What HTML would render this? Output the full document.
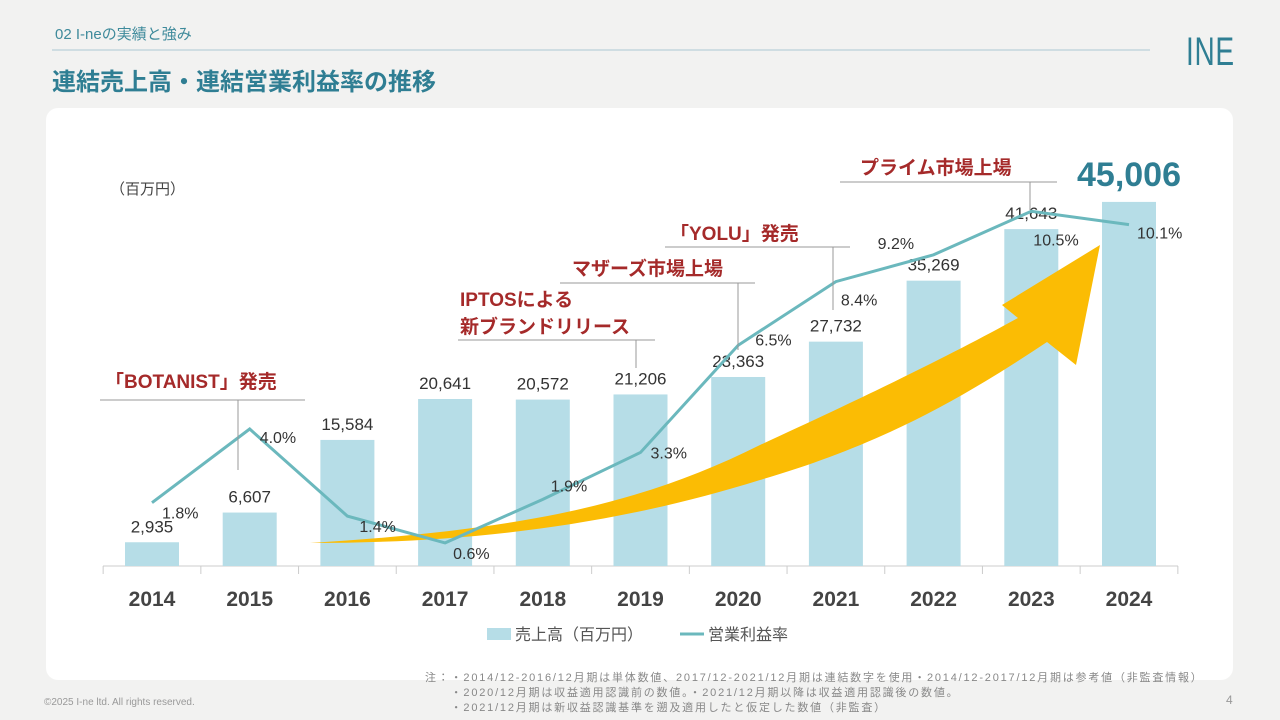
<!DOCTYPE html>
<html><head><meta charset="utf-8"><style>
body{margin:0;width:1280px;height:720px;background:#f2f2f1;font-family:"Liberation Sans","Noto Sans CJK JP",sans-serif;position:relative;overflow:hidden}
.abs{position:absolute}
</style></head><body>
<div class="abs" style="left:55px;top:23px;font-size:15px;color:#3e8a9b">02 I-neの実績と強み</div>
<div class="abs" style="left:52px;top:49px;width:1098px;height:2px;background:#cfdde2"></div>
<div class="abs" style="left:52px;top:62px;font-size:24px;font-weight:bold;color:#2f7e93">連結売上高・連結営業利益率の推移</div>
<div class="abs" style="left:1186px;top:30px;font-size:40px;color:#2f7e93;letter-spacing:1px;transform:scaleX(0.7);transform-origin:left;font-weight:300">INE</div>
<div class="abs" style="left:46px;top:108px;width:1187px;height:572px;background:#fff;border-radius:12px"></div>
<svg class="abs" style="left:0;top:0" width="1280" height="720" id="svg"></svg>
<div class="abs" style="left:44px;top:697px;font-size:10px;color:#999">©2025 I-ne ltd. All rights reserved.</div>
<div class="abs" style="left:1226px;top:693px;font-size:12px;color:#999">4</div>
<div class="abs" style="left:425px;top:671px;font-size:11px;line-height:15px;color:#888;white-space:pre;letter-spacing:1.8px">注：・2014/12-2016/12月期は単体数値、2017/12-2021/12月期は連結数字を使用・2014/12-2017/12月期は参考値（非監査情報）
　　・2020/12月期は収益適用認識前の数値。・2021/12月期以降は収益適用認識後の数値。
　　・2021/12月期は新収益認識基準を遡及適用したと仮定した数値（非監査）</div>
<script>
const years=['2014','2015','2016','2017','2018','2019','2020','2021','2022','2023','2024'];
const sales=[2935,6607,15584,20641,20572,21206,23363,27732,35269,41643,45006];
const salesLabels=['2,935','6,607','15,584','20,641','20,572','21,206','23,363','27,732','35,269','41,643','45,006'];
const margin=[1.8,4.0,1.4,0.6,1.9,3.3,6.5,8.4,9.2,10.5,10.1];
const marginLabels=['1.8%','4.0%','1.4%','0.6%','1.9%','3.3%','6.5%','8.4%','9.2%','10.5%','10.1%'];
const svg=document.getElementById('svg');const NS='http://www.w3.org/2000/svg';
function mk(t,a,txt){const e=document.createElementNS(NS,t);for(const k in a)e.setAttribute(k,a[k]);if(txt!==undefined)e.textContent=txt;svg.appendChild(e);return e;}
const base=566;
const x=i=>152+i*97.7;
const yS=v=>base-v*0.00809;
const yP=v=>563-v*33.5;
let e=mk('line',{x1:103,x2:1178,y1:base,y2:base,stroke:'#ccc','stroke-width':1});

for(let i=0;i<=years.length;i++){e=mk('line',{x1:x(i)-48.85,x2:x(i)-48.85,y1:base,y2:base+8,stroke:'#ccc'});}
sales.forEach((v,i)=>{
 e=mk('rect',{x:x(i)-27,y:yS(v),width:54,height:base-yS(v),fill:'#b6dde7'});
 
 const last=i===sales.length-1;
 e=mk('text',{x:x(i),y:last?yS(v)-16:yS(v)-10,'text-anchor':'middle','font-size':last?34:17,'font-weight':last?'bold':'normal',fill:last?'#2f7e93':'#333'},salesLabels[i]);
 
 e=mk('text',{x:x(i),y:606,'text-anchor':'middle','font-size':21,'font-weight':'bold',fill:'#444'},years[i]);
 
});
// arrow
e=mk('path',{d:'M310,543 C520,530 640,505 760,445 C880,390 960,350 1018,318 L1002,305 L1100,245 L1076,365 L1047,342 C960,400 880,445 760,480 C600,530 450,543 310,543 Z',fill:'#fbbc04'});

e=mk('polyline',{points:margin.map((v,i)=>x(i)+','+yP(v)).join(' '),fill:'none',stroke:'#6bb8bd','stroke-width':3});

const offs=[[10,10],[10,8],[12,10],[8,10],[8,-14],[10,0],[17,-6],[5,18],[-56,-12],[2,28],[8,8]];
margin.forEach((v,i)=>{e=mk('text',{x:x(i)+offs[i][0],y:yP(v)+offs[i][1]+6,'font-size':16,fill:'#333'},marginLabels[i]);
 });
// annotations
const ann=[['「BOTANIST」発売',105,388,100,305,400,238,470],['マザーズ市場上場',572,275,560,755,283,738,350],['「YOLU」発売',670,240,665,850,247,833,310],['プライム市場上場',860,174,840,1057,182,1030,210]];
ann.forEach(a=>{e=mk('text',{x:a[1],y:a[2],'font-size':19,'font-weight':'bold',fill:'#a52a2a'},a[0]);
 e=mk('path',{d:`M${a[3]},${a[5]}H${a[4]}M${a[6]},${a[5]}V${a[7]}`,stroke:'#999',fill:'none'});});
e=mk('text',{x:460,y:306,'font-size':19,'font-weight':'bold',fill:'#a52a2a'},'IPTOSによる');
e=mk('text',{x:460,y:333,'font-size':19,'font-weight':'bold',fill:'#a52a2a'},'新ブランドリリース');
e=mk('path',{d:'M458,340H655M636,340V368',stroke:'#999',fill:'none'});
e=mk('text',{x:110,y:194,'font-size':15,fill:'#444'},'（百万円）');
e=mk('rect',{x:487,y:628,width:24,height:12,fill:'#b6dde7'});
e=mk('text',{x:515,y:640,'font-size':16,fill:'#555'},'売上高（百万円）');
e=mk('line',{x1:680,x2:704,y1:634,y2:634,stroke:'#6bb8bd','stroke-width':3});
e=mk('text',{x:708,y:640,'font-size':16,fill:'#555'},'営業利益率');
</script>
</body></html>
